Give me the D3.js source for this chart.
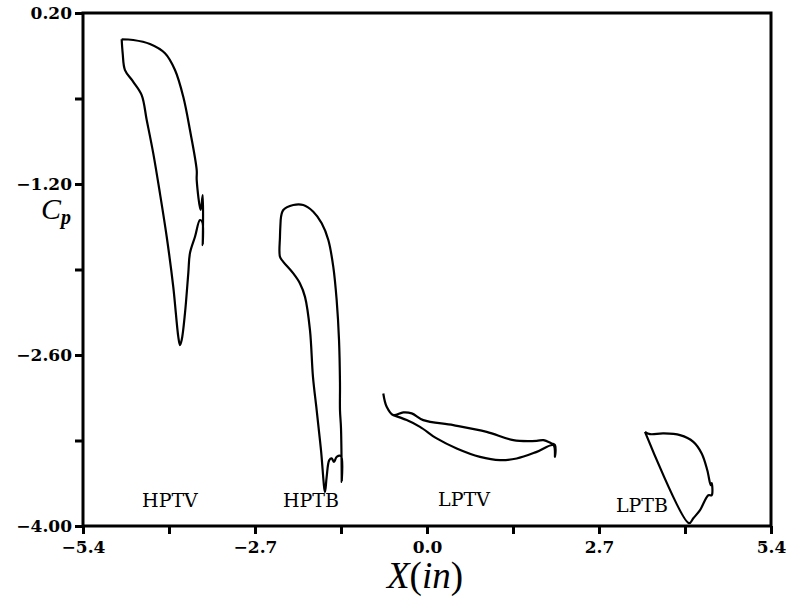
<!DOCTYPE html>
<html>
<head>
<meta charset="utf-8">
<script src="https://cdn.jsdelivr.net/npm/d3@7"></script>
<style>
	body { margin: 0; background: #fff; }
	.blade { fill: none; stroke: #000; stroke-width: 2.2; stroke-linejoin: round; }
	.tag { font-family: "DejaVu Serif", serif; font-size: 19px; }
</style>
</head>
<body>
<div id="chart"></div>
<script>
/*globals d3 */
// Cp around four turbine airfoils vs X(in)
var hptv = [[-4.793,-0.015],[-4.611,-0.021],[-4.349,-0.054],[-4.113,-0.130],[-3.956,-0.267],
	[-3.826,-0.486],[-3.721,-0.758],[-3.615,-1.086],[-3.615,-1.168],[-3.553,-1.413],
	[-3.521,-1.291],[-3.521,-1.700],[-3.527,-1.512],[-3.564,-1.495],[-3.642,-1.632],
	[-3.721,-1.766],[-3.747,-1.929],[-3.799,-2.257],[-3.851,-2.478],[-3.878,-2.519],
	[-3.904,-2.451],[-3.983,-2.042],[-4.086,-1.632],[-4.192,-1.277],[-4.297,-0.949],
	[-4.400,-0.676],[-4.479,-0.472],[-4.611,-0.363],[-4.741,-0.267],[-4.777,-0.130],
	[-4.793,-0.015]];
var hptb = [[-2.297,-1.495],[-2.256,-1.413],[-2.099,-1.372],[-1.942,-1.372],[-1.785,-1.427],
	[-1.653,-1.522],[-1.549,-1.659],[-1.471,-1.878],[-1.418,-2.151],[-1.381,-2.478],
	[-1.366,-2.833],[-1.366,-3.051],[-1.350,-3.199],[-1.339,-3.639],[-1.350,-3.428],
	[-1.418,-3.434],[-1.460,-3.475],[-1.496,-3.447],[-1.534,-3.461],[-1.575,-3.598],
	[-1.601,-3.721],[-1.664,-3.379],[-1.732,-3.051],[-1.790,-2.779],[-1.837,-2.396],
	[-1.915,-2.124],[-1.994,-2.014],[-2.099,-1.932],[-2.256,-1.837],[-2.308,-1.796],
	[-2.308,-1.632],[-2.297,-1.495]];
var lptv = [[-0.686,-2.915],[-0.633,-3.024],[-0.529,-3.092],[-0.372,-3.070],[-0.240,-3.078],
	[-0.058,-3.133],[0.413,-3.174],[0.937,-3.229],[1.355,-3.297],[1.722,-3.303],
	[1.826,-3.297],[1.958,-3.324],[2.009,-3.338],[2.009,-3.434],[1.983,-3.338],
	[1.722,-3.393],[1.408,-3.447],[1.146,-3.461],[0.832,-3.434],[0.466,-3.365],
	[0.152,-3.283],[-0.110,-3.188],[-0.319,-3.133],[-0.529,-3.092]];
var lptb = [[3.422,-3.229],[3.501,-3.248],[3.710,-3.242],[3.972,-3.256],[4.181,-3.311],
	[4.312,-3.406],[4.400,-3.543],[4.454,-3.666],[4.469,-3.649],[4.469,-3.748],
	[4.416,-3.748],[4.286,-3.870],[4.181,-3.936],[4.113,-3.977],[3.422,-3.229]];
var bladeNames = ["HPTV", "HPTB", "LPTV", "LPTB"];
var tagX = [-4.035, -1.821, 0.581, 3.375];
var tagY = [-3.846, -3.846, -3.838, -3.887];
var xMajor = [-5.4, -2.7, 0.0, 2.7, 5.4];
var xMinor = [-4.05, -1.35, 1.35, 4.05];
var yMajor = [0.2, -1.2, -2.6, -4.0];
var yMinor = [-0.5, -1.9, -3.3];

(function() {
	"use strict";
	var W = 792, H = 600;
	var x = d3.scaleLinear().domain([-5.4, 5.4]).range([83, 771]);
	var y = d3.scaleLinear().domain([-4.0, 0.2]).range([526, 13]);
	var svg = d3.select("#chart").append("svg")
		.attr("width", W)
		.attr("height", H);

	function isMajor(list, d) {
		return list.some(function(v) { return Math.abs(v - d) < 1e-9; });
	}

	var xAxis = d3.axisBottom(x)
		.tickValues(xMajor.concat(xMinor))
		.tickFormat(function(d) { return isMajor(xMajor, d) ? d3.format(".1f")(d) : ""; })
		.tickSize(8).tickSizeOuter(0).tickPadding(7);
	var yAxis = d3.axisLeft(y)
		.tickValues(yMajor.concat(yMinor))
		.tickFormat(function(d) { return isMajor(yMajor, d) ? d3.format(".2f")(d) : ""; })
		.tickSize(8).tickSizeOuter(0).tickPadding(3);

	var gx = svg.append("g").attr("transform", "translate(0," + y(-4.0) + ")").call(xAxis);
	var gy = svg.append("g").attr("transform", "translate(" + x(-5.4) + ",0)").call(yAxis);
	[gx, gy].forEach(function(g) {
		g.attr("font-family", "DejaVu Serif, serif")
			.attr("font-size", 17)
			.attr("font-weight", "bold");
		g.select(".domain").remove();
		g.selectAll(".tick line").attr("stroke", "#000").attr("stroke-width", 3);
		g.selectAll(".tick text").attr("fill", "#000");
	});

	// box round the plot
	svg.append("rect")
		.attr("x", x(-5.4)).attr("y", y(0.2))
		.attr("width", x(5.4) - x(-5.4))
		.attr("height", y(-4.0) - y(0.2))
		.attr("fill", "none").attr("stroke", "#000").attr("stroke-width", 3);

	var line = d3.line()
		.x(function(d) { return x(d[0]); })
		.y(function(d) { return y(d[1]); })
		.curve(d3.curveCatmullRom.alpha(0.5));

	svg.selectAll("path.blade").data([hptv, hptb, lptv, lptb])
		.enter().append("path")
		.attr("class", "blade")
		.attr("d", line);

	svg.selectAll("text.tag").data(bladeNames)
		.enter().append("text")
		.attr("class", "tag")
		.attr("x", function(d, i) { return x(tagX[i]); })
		.attr("y", function(d, i) { return y(tagY[i]); })
		.attr("text-anchor", "middle")
		.text(function(d) { return d; });

	// axis titles
	var cp = svg.append("text")
		.attr("x", 41).attr("y", 219)
		.attr("font-family", "Liberation Serif, serif")
		.attr("font-style", "italic")
		.attr("font-size", 30);
	cp.append("tspan").text("C");
	cp.append("tspan").attr("dy", 5).attr("font-size", 20).attr("font-weight", "bold").text("p");

	var xt = svg.append("text")
		.attr("x", 425).attr("y", 588)
		.attr("text-anchor", "middle")
		.attr("font-family", "Liberation Serif, serif")
		.attr("font-size", 37);
	xt.append("tspan").attr("font-style", "italic").text("X");
	xt.append("tspan").text("(");
	xt.append("tspan").attr("font-style", "italic").text("in");
	xt.append("tspan").text(")");
}());
</script>
</body>
</html>
